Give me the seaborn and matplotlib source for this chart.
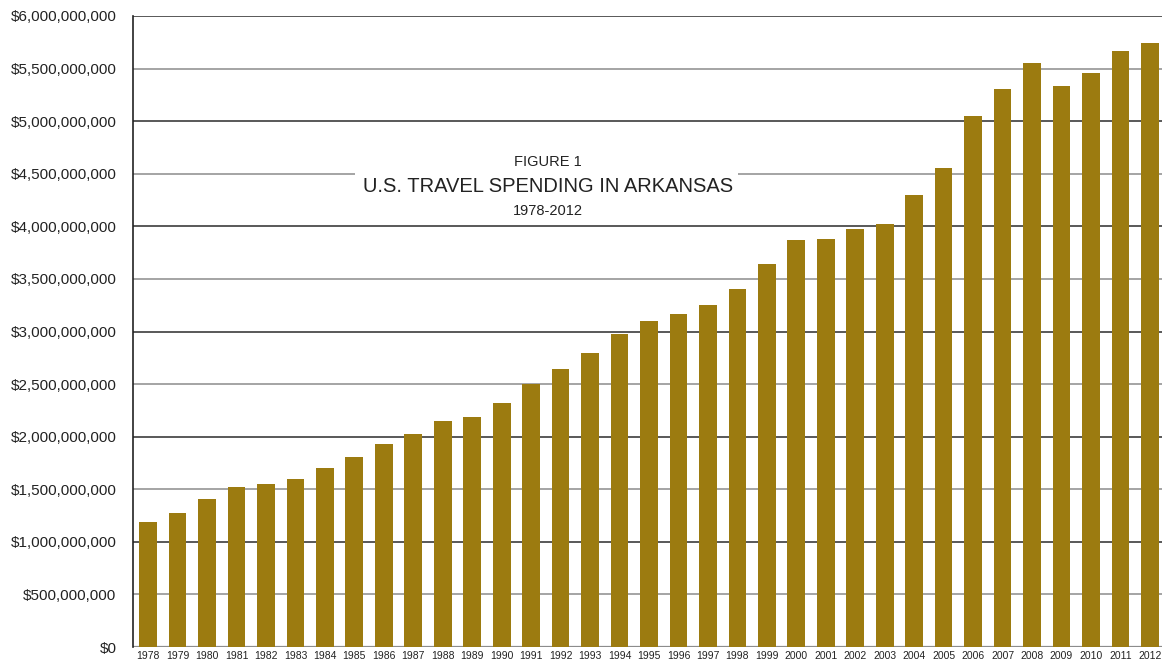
import matplotlib
matplotlib.use("Agg")
import matplotlib.pyplot as plt
import matplotlib.patches as mpatches
import pandas as pd
import seaborn as sns

# travel spending in Arkansas (dollars)
years = [str(y) for y in range(1978, 2013)]
spending = [
    1.19e9, 1.27e9, 1.41e9, 1.52e9, 1.55e9, 1.60e9, 1.70e9, 1.81e9, 1.93e9, 2.03e9,
    2.15e9, 2.19e9, 2.32e9, 2.50e9, 2.64e9, 2.80e9, 2.98e9, 3.10e9, 3.17e9, 3.25e9,
    3.40e9, 3.64e9, 3.87e9, 3.88e9, 3.97e9, 4.02e9, 4.30e9, 4.55e9, 5.05e9, 5.31e9,
    5.55e9, 5.33e9, 5.46e9, 5.67e9, 5.74e9,
]
ytick_vals = [i * 5e8 for i in range(13)]

df = pd.DataFrame({"year": years, "spending": spending})

sns.set_style("white")
plt.rcParams["font.family"] = ["Liberation Sans", "DejaVu Sans"]

fig = plt.figure(figsize=(11.62, 6.65), dpi=100)
ax = fig.add_axes([0.1145, 0.027, 0.8855, 0.949])

# grid: whole billions dark, half billions grey
for v in ytick_vals[1:]:
    c = "#2b2b2b" if v % 1e9 == 0 else "#8c8c8c"
    ax.axhline(v, color=c, lw=1.1, zorder=0)
ax.axhline(0, color="#8c8c8c", lw=1.6, zorder=0)

sns.barplot(data=df, x="year", y="spending", color="#9C7B10", width=0.6,
            saturation=1, ax=ax)
for p in ax.patches:
    p.set_zorder(2)
    p.set_edgecolor("none")

ax.set_ylim(0, 6e9)
ax.set_xlim(-0.51, len(years) - 0.59)
ax.set_yticks(ytick_vals)
ax.set_yticklabels(["$" + format(int(v), ",") for v in ytick_vals], fontsize=11, color="#222222")
ax.tick_params(axis="y", length=0, pad=12)

ax.set_xticks(range(len(years)))
ax.set_xticklabels(years, fontsize=7.5, color="#222222",
                   family=["Liberation Sans Narrow", "Liberation Sans"])
ax.tick_params(axis="x", length=0, pad=3)
# tick marks between the bars
ax.set_xticks([i + 0.5 for i in range(len(years) - 1)], minor=True)
ax.tick_params(axis="x", which="minor", length=6, width=1, color="#333333", direction="out")

ax.set_xlabel("")
ax.set_ylabel("")
for s in ["top", "right", "bottom"]:
    ax.spines[s].set_visible(False)
ax.spines["left"].set_color("#222222")
ax.spines["left"].set_linewidth(1.2)

# title box over the grid
ax.add_patch(mpatches.Rectangle((0.2157, 0.669), 0.3723, 0.119, transform=ax.transAxes,
                                facecolor="white", edgecolor="none", zorder=3))
ax.text(0.4033, 0.769, "FIGURE 1", transform=ax.transAxes, ha="center", va="center",
        fontsize=10.5, color="#222222", zorder=4)
ax.text(0.4033, 0.729, "U.S. TRAVEL SPENDING IN ARKANSAS", transform=ax.transAxes,
        ha="center", va="center", fontsize=14.5, color="#222222", zorder=4)
ax.text(0.4033, 0.691, "1978-2012", transform=ax.transAxes, ha="center", va="center",
        fontsize=10.5, color="#222222", zorder=4)

fig.savefig("out.png", dpi=100)
